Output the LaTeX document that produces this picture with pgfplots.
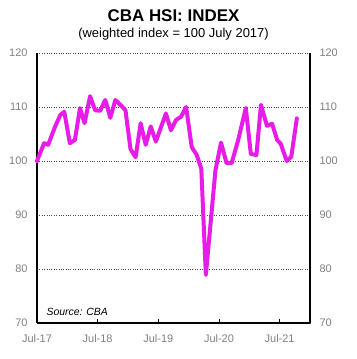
\documentclass[border=0pt]{standalone}
\usepackage{fontspec}
\setmainfont{Liberation Sans}
\usepackage{pgfplots}
\pgfplotsset{compat=1.18}
\definecolor{hsi}{RGB}{232,28,232}
\definecolor{lab}{RGB}{128,128,128}
\begin{document}
\begin{tikzpicture}[x=1bp,y=1bp]
\pgfplotsset{
  common/.style={
    at={(37bp,36bp)}, anchor=south west,
    scale only axis, width=273bp, height=270bp,
    xmin=0, xmax=54, ymin=70, ymax=120,
    ytick={70,80,90,100,110,120},
    /pgf/number format/assume math mode=true,
    tick label style={font=\fontsize{11}{13}\selectfont, text=lab},
    axis line style={black, line width=1.3bp},
  }
}
\begin{axis}[common,
  axis x line*=bottom, axis y line*=left,
  xtick={0,12,24,36,48},
  xticklabels={Jul-17,Jul-18,Jul-19,Jul-20,Jul-21},
  xtick style={black, line width=0.8bp},
  ytick style={draw=none},
  major tick length=4bp,
  xticklabel style={yshift=-8bp},
  yticklabel style={xshift=-6bp},
  ymajorgrids,
  grid style={dotted, line width=0.8bp, black!70},
  clip=false,
]
\addplot[hsi, line width=4bp, line join=round, line cap=round] coordinates {
(0,100) (1.4,103.3) (2.2,103) (3.6,106.4) (4.6,108.5) (5.4,109.1)
(6.5,103.3) (7.5,103.9) (8.5,109.8) (9.4,107) (10.5,112) (11.5,109.4)
(12.5,109.3) (13.5,111.3) (14.5,108) (15.5,111.3) (16.5,110.4) (17.5,109.4)
(18.5,102.2) (19.5,100.7) (20.5,107) (21.5,103) (22.5,106.4) (23.5,103.6)
(25.5,108.8) (26.5,105.7) (27.5,107.6) (28.5,108.2) (29.5,110)
(30.6,102.6) (31.6,101.1) (32.5,98.6) (33.4,78.9) (35.3,98.3) (36.4,103.4)
(37.5,99.6) (38.5,99.6) (39.8,103.9) (41.3,109.8) (42.3,101.3) (43.4,101.1)
(44.3,110.4) (45.5,106.5) (46.5,106.9) (47.5,103.9) (48.2,103.2)
(49.4,100) (50.3,100.8) (51.4,107.9)
};
\node[anchor=west, font=\fontsize{10.5}{12}\selectfont\itshape] at (rel axis cs:0.022,0.04) {Source: CBA};
\node[font=\fontsize{17}{19}\selectfont\bfseries] at (rel axis cs:0.5,1.0) [yshift=37bp] {CBA HSI: INDEX};
\node[font=\fontsize{13}{15}\selectfont] at (rel axis cs:0.5,1.0) [yshift=19bp] {(weighted index = 100 July 2017)};
\end{axis}
\begin{axis}[common,
  axis x line=none, axis y line*=right,
  ytick style={draw=none},
  yticklabel style={xshift=6bp},
]
\end{axis}
\pgfresetboundingbox
\path[use as bounding box] (0,0) rectangle (357bp,359bp);
\end{tikzpicture}
\end{document}
